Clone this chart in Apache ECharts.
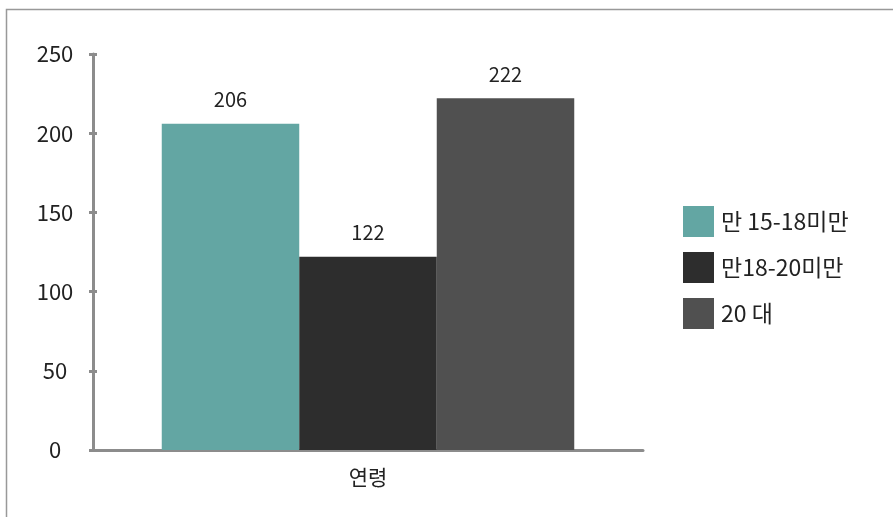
<!DOCTYPE html>
<html>
<head>
<meta charset="utf-8">
<script src="https://cdn.jsdelivr.net/npm/echarts@6/dist/echarts.min.js"></script>
<style>
    html, body { margin: 0; padding: 0; background: #fff; }
    #container { width: 893px; height: 517px; }
</style>
</head>
<body>
<div id="container"></div>
<script>
"use strict";

const categories = ['연령'];
const seriesNames = ['만 15-18미만', '만18-20미만', '20 대'];
const seriesValues = [[206], [122], [222]];
const seriesColors = ['#63a6a3', '#2d2d2d', '#505050'];
const yTicks = [0, 50, 100, 150, 200, 250];

let myChart = echarts.init(document.getElementById('container'));
const font = '"Noto Sans CJK KR", "Noto Sans", sans-serif';
const axisGray = '#8c8c8c';

let series = seriesNames.map(function (name, i) {
    return {
        name: name,
        type: 'bar',
        data: seriesValues[i],
        barGap: '0%',
        barCategoryGap: '25%',
        itemStyle: { color: seriesColors[i] },
        label: {
            show: true,
            position: 'top',
            distance: 14,
            fontSize: 20,
            color: '#222',
            fontFamily: font
        }
    };
});

let option = {
    animation: false,
    backgroundColor: '#fff',
    graphic: [{
        type: 'rect',
        shape: { x: 6.5, y: 9.5, width: 900, height: 520 },
        style: { fill: 'none', stroke: '#999', lineWidth: 1.5 },
        z: 0
    }],
    grid: { left: 93, right: 250, top: 54, bottom: 67 },
    legend: {
        orient: 'vertical',
        left: 678,
        top: 201,
        itemWidth: 31,
        itemHeight: 31,
        itemGap: 15,
        icon: 'rect',
        textStyle: { fontSize: 23, color: '#222', fontFamily: font, padding: [0, 0, 4, 2] }
    },
    xAxis: {
        type: 'category',
        data: categories,
        axisLine: { lineStyle: { color: axisGray, width: 3 } },
        axisTick: { show: false },
        axisLabel: { fontSize: 21, color: '#222', fontFamily: font, margin: 17 }
    },
    yAxis: [{
        type: 'value',
        min: yTicks[0],
        max: yTicks[yTicks.length - 1],
        interval: 50,
        splitLine: { show: false },
        axisLine: { show: true, lineStyle: { color: axisGray, width: 3 } },
        axisTick: { show: true, length: 4, lineStyle: { color: axisGray, width: 3 } },
        axisLabel: { fontSize: 22, color: '#222', fontFamily: font, margin: 38, align: 'center' }
    }, {
        type: 'value',
        position: 'left',
        min: yTicks[0],
        max: yTicks[yTicks.length - 1],
        interval: 50,
        splitLine: { show: false },
        axisLine: { show: false },
        axisTick: { show: true, inside: true, length: 4, lineStyle: { color: axisGray, width: 3 } },
        axisLabel: { show: false }
    }],
    series: series
};

myChart.setOption(option);

window.addEventListener('resize', function () {
    myChart.resize();
});
</script>
</body>
</html>
